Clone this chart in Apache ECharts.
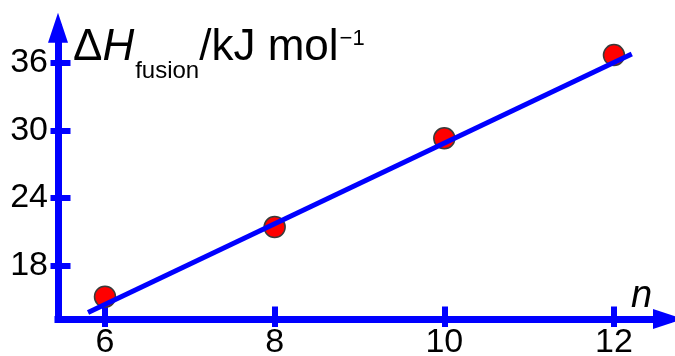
<!DOCTYPE html>
<html>
<head>
<meta charset="utf-8">
<script src="https://cdn.jsdelivr.net/npm/echarts@6/dist/echarts.min.js"></script>
<style>
  html, body { margin: 0; padding: 0; background: #fff; }
  #chart { width: 675px; height: 356px; }
</style>
</head>
<body>
<div id="chart"></div>
<script>
// data
let nValues = [6, 8, 10, 12];
let dHfusion = [15.2, 21.4, 29.3, 36.7];
// ends of the fitted straight line
let fitN = [5.8, 12.21];
let fitH = [13.8, 36.8];
// tick labels
let xTicks = [6, 8, 10, 12];
let yTicks = [18, 24, 30, 36];

let blue = '#0000ff';
let font = "'Liberation Sans', Arial, sans-serif";

let myChart = echarts.init(document.getElementById('chart'));

let xRange = { min: 5.446, max: 12.637 };
let yRange = { min: 13.22, max: 39.14 };

// one style per piece of the axis title
function piece(size, extra) {
    return Object.assign({
        fontFamily: font, fontSize: size, fontWeight: 'normal', color: '#000',
        lineHeight: size, verticalAlign: 'top'
    }, extra || {});
}

myChart.setOption({
    animation: false,
    title: [
        {
            left: 73,
            top: 26,
            padding: 0,
            text: '{d|Δ}{h|H}{sub|fusion}{n|/kJ mol}{sup|−1}',
            textStyle: {
                fontWeight: 'normal',
                rich: {
                    d: piece(44),
                    h: piece(44, { fontStyle: 'italic' }),
                    sub: piece(24, { padding: [33, 0, 0, 1] }),
                    n: piece(44),
                    sup: piece(22, { padding: [2, 0, 0, 1] })
                }
            }
        },
        {
            left: 631,
            top: 277,
            padding: 0,
            text: 'n',
            textStyle: { fontFamily: font, fontSize: 38, fontStyle: 'italic', fontWeight: 'normal', color: '#000' }
        }
    ],
    grid: { left: 58, right: 7, top: 27.7, bottom: 37, containLabel: false, outerBoundsMode: 'none' },
    xAxis: [
        {
            type: 'value',
            min: xRange.min,
            max: xRange.max,
            splitLine: { show: false },
            axisLine: {
                lineStyle: { color: blue, width: 7, cap: 'square' },
                symbol: ['none', 'triangle'],
                symbolSize: [20, 30]
            },
            axisTick: { customValues: xTicks, inside: true, length: 12.5, lineStyle: { color: blue, width: 6 } },
            axisLabel: { customValues: xTicks, margin: 7, fontFamily: font, fontSize: 34, color: '#000' }
        },
        {
            // outward half of the ticks
            type: 'value',
            position: 'bottom',
            min: xRange.min,
            max: xRange.max,
            splitLine: { show: false },
            axisLine: { show: false },
            axisTick: { customValues: xTicks, inside: false, length: 8, lineStyle: { color: blue, width: 6 } },
            axisLabel: { show: false }
        }
    ],
    yAxis: [
        {
            type: 'value',
            min: yRange.min,
            max: yRange.max,
            splitLine: { show: false },
            axisLine: {
                lineStyle: { color: blue, width: 7, cap: 'square' },
                symbol: ['none', 'triangle'],
                symbolSize: [20, 30]
            },
            axisTick: { customValues: yTicks, inside: true, length: 12.5, lineStyle: { color: blue, width: 6 } },
            axisLabel: { customValues: yTicks, margin: 10, fontFamily: font, fontSize: 34, color: '#000' }
        },
        {
            type: 'value',
            position: 'left',
            min: yRange.min,
            max: yRange.max,
            splitLine: { show: false },
            axisLine: { show: false },
            axisTick: { customValues: yTicks, inside: false, length: 7.5, lineStyle: { color: blue, width: 6 } },
            axisLabel: { show: false }
        }
    ],
    series: [
        {
            type: 'scatter',
            data: nValues.map(function (n, i) { return [n, dHfusion[i]]; }),
            symbolSize: 21,
            itemStyle: { color: '#ff0000', borderColor: '#3a3a3a', borderWidth: 1.5, opacity: 1 },
            z: 2
        },
        {
            type: 'line',
            data: fitN.map(function (n, i) { return [n, fitH[i]]; }),
            symbol: 'none',
            lineStyle: { color: blue, width: 5 },
            z: 3
        }
    ]
});
</script>
</body>
</html>
